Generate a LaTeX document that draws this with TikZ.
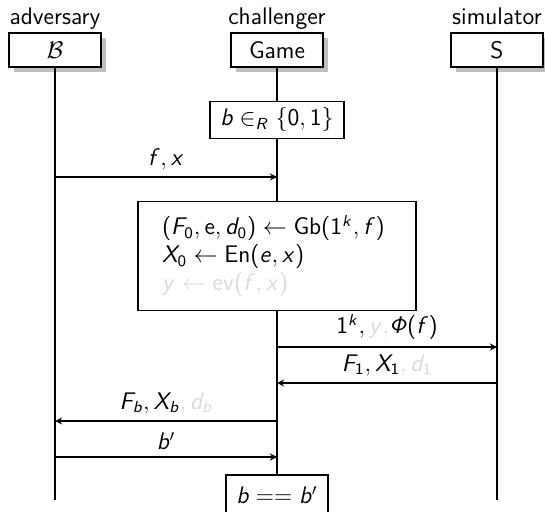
\documentclass[tikz,border=0pt]{standalone}
\renewcommand{\familydefault}{\sfdefault}
\DeclareSymbolFont{operators}{OT1}{cmss}{m}{n}
\DeclareSymbolFont{sfletters}{OT1}{cmss}{m}{sl}
\DeclareMathSymbol{b}{\mathalpha}{sfletters}{`b}
\DeclareMathSymbol{d}{\mathalpha}{sfletters}{`d}
\DeclareMathSymbol{e}{\mathalpha}{sfletters}{`e}
\DeclareMathSymbol{f}{\mathalpha}{sfletters}{`f}
\DeclareMathSymbol{k}{\mathalpha}{sfletters}{`k}
\DeclareMathSymbol{x}{\mathalpha}{sfletters}{`x}
\DeclareMathSymbol{y}{\mathalpha}{sfletters}{`y}
\DeclareMathSymbol{F}{\mathalpha}{sfletters}{`F}
\DeclareMathSymbol{R}{\mathalpha}{sfletters}{`R}
\DeclareMathSymbol{X}{\mathalpha}{sfletters}{`X}
\DeclareMathSymbol{\sfPhi}{\mathalpha}{sfletters}{"08}
\usetikzlibrary{shadows,positioning,arrows}
\definecolor{covered}{gray}{0.85}
\definecolor{shadowgray}{gray}{0.75}
\tikzset{
    instance/.style={
        rectangle,
        draw=black,
        semithick,
        fill=white,
        minimum width=46pt,
        minimum height=17pt,
        inner sep=0pt,
        drop shadow={fill=shadowgray, opacity=1, shadow xshift=2.5pt, shadow yshift=-2.5pt}
    },
    instlabel/.style={
        inner sep=1pt,
        text height=8.5pt,
        text depth=2.5pt
    },
    lifeline/.style={
        line width=1.3pt
    },
    actionbox/.style={
        rectangle,
        draw=black,
        semithick,
        fill=white
    },
    mess/.style={
        ->,
        >=stealth,
        semithick
    }
}

\begin{document}
\begin{tikzpicture}[x=0.5pt, y=-0.5pt, font=\fontsize{12}{14}\selectfont]
\useasboundingbox (0,0) rectangle (545,512);

% instances
\node[instance] (adv) at (55,50) {$\mathcal{B}$};
\node[instance] (game) at (277,50) {Game};
\node[instance] (sim) at (497,50) {S};
\node[instlabel, above=0pt of adv] (adv-name) {adversary};
\node[instlabel, above=0pt of game] (game-name) {challenger};
\node[instlabel, above=0pt of sim] (sim-name) {simulator};

% challenger steps
\node[actionbox, minimum width=67pt, minimum height=17.5pt] (choose) at (277,120) {$b \in_R \{0,1\}$};
\node[actionbox, minimum width=139pt, minimum height=54.5pt, text width=115pt, inner xsep=12pt, align=left] (gen) at (277,256) {
    $(F_0, \mathsf{e}, d_0) \leftarrow \mathsf{Gb}(1^k, f)$\\
    $X_0 \leftarrow \mathsf{En}(e, x)$\\
    \textcolor{covered}{$y \leftarrow \mathsf{ev}(f, x)$}
};
\node[actionbox, minimum width=51pt, minimum height=20pt] (check) at (277,495) {$b == b'$};

% lifelines
\coordinate (adv-end) at (55,500);
\coordinate (sim-end) at (497,500);
\draw[lifeline] (adv) -- (adv-end);
\draw[lifeline] (sim) -- (sim-end);
\draw[lifeline] (game) -- (choose);
\draw[lifeline] (choose) -- (gen);
\draw[lifeline] (gen) -- (check);

% message points
\coordinate (adv-fx) at (55,177);
\coordinate (game-fx) at (277,177);
\coordinate (game-key) at (277,347);
\coordinate (sim-key) at (497,347);
\coordinate (sim-circ) at (497,383);
\coordinate (game-circ) at (277,383);
\coordinate (game-chal) at (277,421);
\coordinate (adv-chal) at (55,421);
\coordinate (adv-guess) at (55,457);
\coordinate (game-guess) at (277,457);

% messages
\draw[mess] (adv-fx) -- node[above] {$f, x$} (game-fx);
\draw[mess] (game-key) -- node[above] {$1^k, \textcolor{covered}{y,} \sfPhi(f)$} (sim-key);
\draw[mess] (sim-circ) -- node[above] {$F_1, X_1\textcolor{covered}{, d_1}$} (game-circ);
\draw[mess] (game-chal) -- node[above] {$F_b, X_b\textcolor{covered}{, d_b}$} (adv-chal);
\draw[mess] (adv-guess) -- node[above] {$b'$} (game-guess);
\end{tikzpicture}
\end{document}
